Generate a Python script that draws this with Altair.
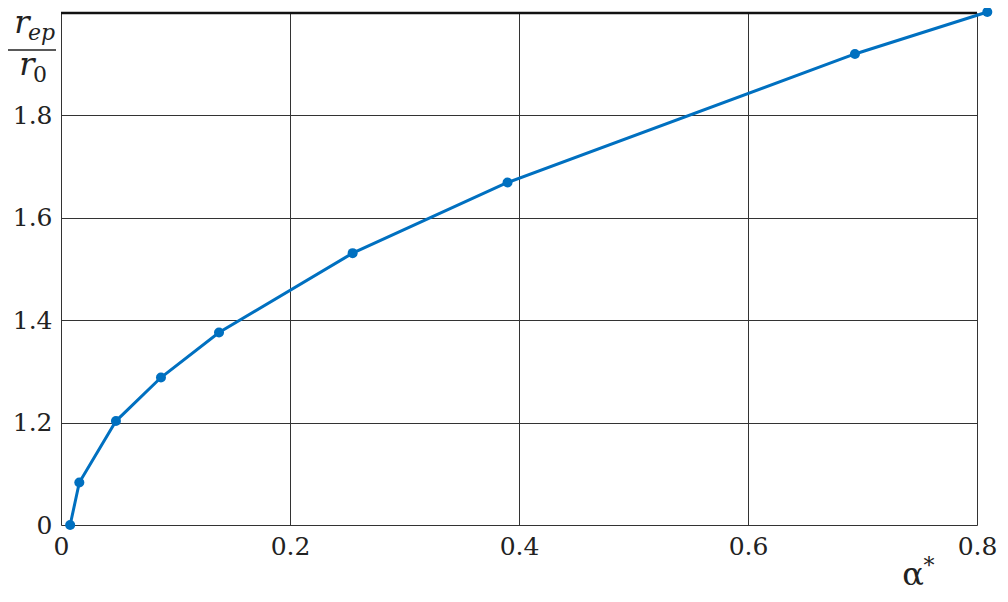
import altair as alt
import pandas as pd

# data
alpha = [0.008, 0.016, 0.048, 0.0873, 0.138, 0.2547, 0.390, 0.6934, 0.809]
ratio = [1.000, 1.083, 1.203, 1.288, 1.376, 1.531, 1.669, 1.920, 2.002]
x_ticks = [0, 0.2, 0.4, 0.6, 0.8]
y_ticks = [1.0, 1.2, 1.4, 1.6, 1.8]

df = pd.DataFrame({"a": alpha, "r": ratio})

FONT = "DejaVu Serif"
BLUE = "#0070c0"

xs = alt.Scale(domain=[0, 0.8], nice=False, zero=False)
ys = alt.Scale(domain=[1.0, 2.0], nice=False, zero=False)

x_axis = alt.Axis(values=x_ticks, title=None, grid=True, ticks=False, domain=False,
                  labelExpr="datum.value == 0 ? '0' : format(datum.value, '.1f')",
                  labelFont=FONT, labelFontSize=25, labelColor="#222", labelPadding=9,
                  gridColor="#333", gridWidth=1, labelFlush=False)
y_axis = alt.Axis(values=y_ticks, title=None, grid=True, ticks=False, domain=False,
                  labelExpr="datum.value == 1 ? '0' : format(datum.value, '.1f')",
                  labelFont=FONT, labelFontSize=25, labelColor="#222", labelPadding=9,
                  gridColor="#333", gridWidth=1, labelFlush=False)

base = alt.Chart(df).encode(
    x=alt.X("a:Q", scale=xs, axis=x_axis),
    y=alt.Y("r:Q", scale=ys, axis=y_axis),
)
line = base.mark_line(color=BLUE, strokeWidth=3, clip=False)
pts = base.mark_point(color=BLUE, filled=True, opacity=1, size=100, clip=False)

ann = pd.DataFrame({"t": [0]})

def txt(s, x, y, size, style="italic", align="center", baseline="alphabetic"):
    return alt.Chart(ann).mark_text(text=s, font=FONT, fontSize=size, fontStyle=style,
                                    align=align, baseline=baseline, color="#222").encode(
        x=alt.value(x), y=alt.value(y))

top_edge = alt.Chart(ann).mark_rule(color="#111", strokeWidth=2.5).encode(
    x=alt.value(0), x2=alt.value(916), y=alt.value(0))
num_r = txt("r", -39, 20, 32)
num_sub = txt("ep", -33, 27, 22, align="left")
den_r = txt("r", -34, 62, 32)
den_sub = txt("0", -28, 69, 22, style="normal", align="left")
frac = alt.Chart(ann).mark_rule(color="#222", strokeWidth=1.5).encode(
    x=alt.value(-53), x2=alt.value(-5), y=alt.value(37))
alpha_t = txt("α", 852, 572, 32, style="normal")
star_t = txt("*", 868, 543, 22, style="normal", baseline="top")

chart = alt.layer(top_edge, line, pts, num_r, num_sub, den_r, den_sub, frac, alpha_t, star_t).properties(
    width=916, height=512,
    autosize=alt.AutoSizeParams(type="none"),
    padding={"left": 53, "top": 5, "right": 20, "bottom": 60},
).configure_view(stroke="#111", strokeWidth=2.5).configure(background="white")

chart.save("out.html", embed_options={"renderer": "svg", "actions": False})
